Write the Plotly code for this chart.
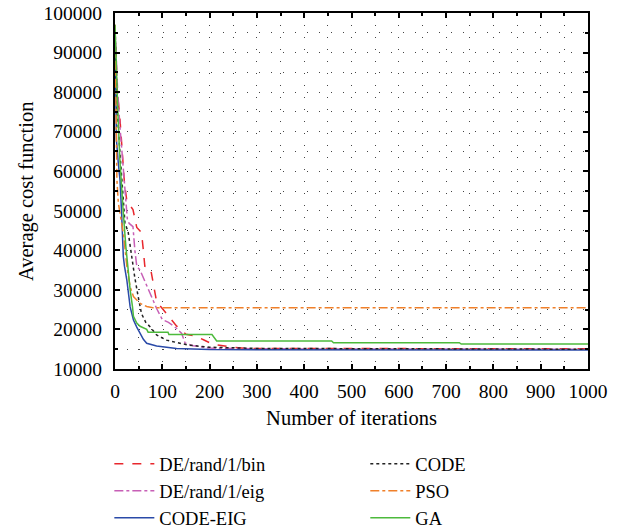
import plotly.graph_objects as go

# ---- data ----
bin_x = [0, 5, 10, 15, 20, 25, 38, 46, 56, 60, 63, 75, 81, 88, 100, 116, 130, 150, 170, 187, 208, 250, 280, 1000]
bin_y = [96000, 80000, 74000, 66000, 57000, 52500, 50300, 45800, 44500, 40000, 36000, 35500, 31500, 27000, 25300, 23000, 20900, 18800, 18300, 17400, 16200, 15500, 15200, 15100]

eig_x = [0, 5, 10, 14, 18, 22, 26, 30, 38, 42, 46, 53, 67, 78, 88, 100, 113, 130, 141, 148, 165, 200, 300, 1000]
eig_y = [97000, 82000, 72000, 66000, 62000, 55000, 48000, 46800, 46000, 40000, 36000, 35000, 31000, 28300, 25300, 22500, 21800, 20300, 19000, 16600, 15900, 15300, 15100, 15000]

codeeig_x = [0, 3, 7, 10.6, 14, 17.6, 20, 25, 32, 39, 46, 53, 60, 67, 88, 130, 200, 1000]
codeeig_y = [96000, 68000, 62000, 57800, 49400, 38400, 36000, 32500, 25700, 22400, 20600, 19000, 17500, 16500, 15800, 15200, 14900, 14800]

code_x = [0, 5, 10, 15, 21, 28, 35, 42, 49, 56, 65, 74, 88, 109, 130, 158, 200, 300, 1000]
code_y = [96000, 75000, 65500, 56000, 47000, 44500, 38000, 33000, 28300, 24000, 21800, 20700, 18600, 17300, 16700, 16000, 15500, 15200, 15000]

pso_x = [0, 2, 4, 7, 12, 18, 25, 32, 39, 53, 67, 80, 1000]
pso_y = [97000, 70000, 58000, 52000, 48000, 44000, 36000, 30800, 28300, 26600, 25800, 25500, 25500]

ga_x = [0, 3, 6, 10, 14, 17.6, 23, 28, 32, 37, 39, 46, 53, 67, 70, 112, 114, 205, 215, 458, 462, 728, 732, 1000]
ga_y = [97000, 84000, 75000, 63500, 55000, 49400, 40900, 34200, 30000, 25700, 23300, 21600, 20800, 20000, 19300, 19300, 18700, 18700, 17100, 17100, 16650, 16650, 16300, 16300]

x_ticks = [0, 100, 200, 300, 400, 500, 600, 700, 800, 900, 1000]
x_tick_labels = ["0", "100", "200", "300", "400", "500", "600", "700", "800", "900", "1000"]
y_ticks = [10000, 20000, 30000, 40000, 50000, 60000, 70000, 80000, 90000, 100000]
y_tick_labels = ["10000", "20000", "30000", "40000", "50000", "60000", "70000", "80000", "90000", "100000"]

FONT = "Liberation Serif"
TICK_SIZE = 19.5
TITLE_SIZE = 20.5
LEGEND_SIZE = 18.5

fig = go.Figure()

series = [
    ("DE/rand/1/bin", bin_x, bin_y, "#e8272d", "dash", "legend"),
    ("DE/rand/1/eig", eig_x, eig_y, "#c75fb6", "dashdot", "legend"),
    ("CODE-EIG", codeeig_x, codeeig_y, "#2a4aa8", "solid", "legend"),
    ("CODE", code_x, code_y, "#222222", "dot", "legend2"),
    ("PSO", pso_x, pso_y, "#f0802a", "dashdot", "legend2"),
    ("GA", ga_x, ga_y, "#4dba3c", "solid", "legend2"),
]

for name, xs, ys, col, dash, lg in series:
    fig.add_trace(go.Scatter(
        x=xs, y=ys, mode="lines", name=name,
        line=dict(color=col, width=1.5, dash=dash),
        legend=lg, legendgroup=name,
    ))

GRID_DASH = "1px,11px"
axis_common = dict(
    showline=True, linecolor="black", linewidth=2, mirror="allticks",
    ticks="inside", ticklen=5, tickwidth=1.5, tickcolor="black",
    showgrid=True, gridcolor="#444444", gridwidth=1, griddash=GRID_DASH,
    zeroline=False, automargin=True,
    tickfont=dict(family=FONT, size=TICK_SIZE, color="black"),
)

fig.update_xaxes(
    range=[0, 1000], tickvals=x_ticks, ticktext=x_tick_labels,
    minor=dict(dtick=50, ticks="inside", ticklen=3, tickcolor="black",
               showgrid=True, gridcolor="#444444", griddash=GRID_DASH),
    title=dict(text="Number of iterations", font=dict(family=FONT, size=TITLE_SIZE, color="black"), standoff=9),
    ticklabelstandoff=4,
    **axis_common,
)
fig.update_yaxes(
    range=[10000, 100000], tickvals=y_ticks, ticktext=y_tick_labels,
    minor=dict(dtick=5000, ticks="inside", ticklen=3, tickcolor="black",
               showgrid=True, gridcolor="#444444", griddash=GRID_DASH),
    ticklabelstandoff=7,
    **axis_common,
)

fig.add_annotation(
    text="Average cost function", xref="paper", yref="paper",
    x=-0.188, y=0.5, xanchor="center", yanchor="middle", textangle=-90,
    showarrow=False, font=dict(family=FONT, size=TITLE_SIZE, color="black"),
)

leg_common = dict(
    orientation="v", xanchor="left", yanchor="top",
    xref="container", yref="container",
    font=dict(family=FONT, size=LEGEND_SIZE, color="black"),
    bgcolor="rgba(0,0,0,0)", tracegroupgap=0, itemwidth=40,
)

fig.update_layout(
    width=632, height=530,
    margin=dict(l=115, r=44, t=13, b=161, autoexpand=False),
    plot_bgcolor="white", paper_bgcolor="white",
    font=dict(family=FONT, size=TICK_SIZE, color="black"),
    legend=dict(x=0.173, y=0.160, **leg_common),
    legend2=dict(x=0.578, y=0.160, **leg_common),
    showlegend=True,
)

fig.write_html("out.html", config={"displayModeBar": False},
               post_script="document.body.style.margin='0';")
